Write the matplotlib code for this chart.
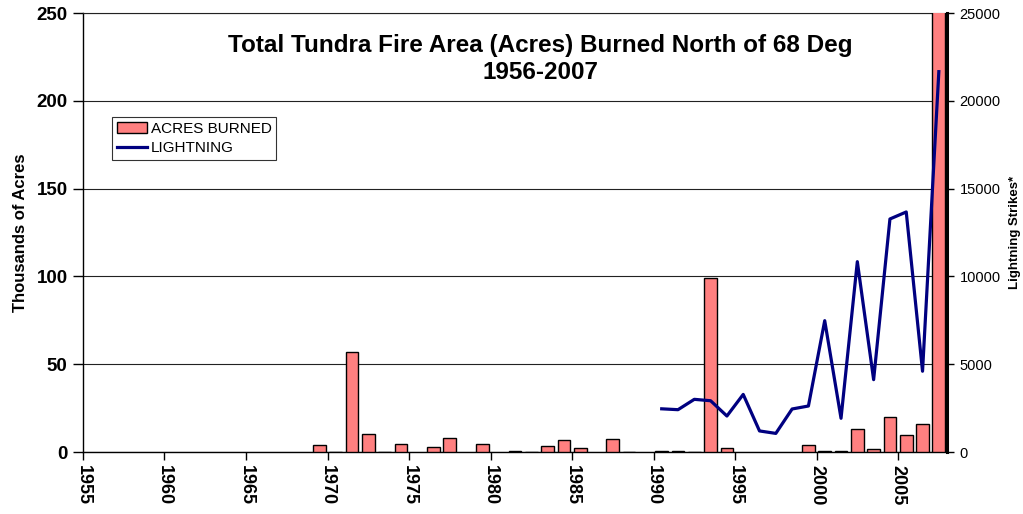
import matplotlib
matplotlib.use("Agg")
import matplotlib.pyplot as plt
import numpy as np

plt.rcParams['font.family'] = ['Liberation Sans', 'DejaVu Sans']

# ---- data ----
acre_years = list(range(1969, 2008))
acres_thousands = [3.8, 0.2, 56.8, 10.3, 0.2, 4.7, 0.0, 2.7, 8.1, 0.0,
                   4.6, 0.0, 0.5, 0.2, 3.4, 6.8, 2.5, 0.0, 7.2, 0.2,
                   0.0, 0.5, 0.5, 0.2, 98.9, 2.3, 0.0, 0.0, 0.0, 0.0,
                   3.8, 0.6, 0.6, 13.3, 1.9, 19.8, 9.9, 15.8, 256.0]
light_years = list(range(1990, 2008))
lightning = [2460, 2410, 3000, 2920, 2050, 3280, 1200, 1060, 2450, 2620,
             7480, 1920, 10840, 4120, 13270, 13670, 4600, 21660]
xtick_years = list(range(1955, 2010, 5))

title = "Total Tundra Fire Area (Acres) Burned North of 68 Deg\n1956-2007"

fig = plt.figure(figsize=(10.23, 5.14), dpi=100)
ax = fig.add_axes([0.0811, 0.1206, 0.8446, 0.8541])
ax2 = ax.twinx()

# bars (drawn in category centre: year + 0.5)
bx = np.array([y for y, v in zip(acre_years, acres_thousands) if v > 0]) + 0.5
bv = [v for v in acres_thousands if v > 0]
bars = ax.bar(bx, bv, width=0.78, color='#FF8080', edgecolor='black',
              linewidth=1.0, label='ACRES BURNED', zorder=3)

ax.set_xlim(1955, 2008)
ax.set_ylim(0, 250)
ax.set_yticks(range(0, 251, 50))
ax.yaxis.grid(True, color='#222222', linewidth=0.8, zorder=0)
ax.set_axisbelow(True)
ax.set_xticks(xtick_years)
ax.set_xticklabels([str(y) for y in xtick_years], rotation=270,
                   fontsize=13, fontweight='bold')
ax.tick_params(axis='x', direction='out', length=6, width=1, pad=3)
ax.tick_params(axis='y', direction='out', length=7, width=1, labelsize=13.5, pad=4)
for lab in ax.get_yticklabels():
    lab.set_fontweight('bold')
ax.set_ylabel('Thousands of Acres', fontsize=12, fontweight='bold', labelpad=6)

for s in ['left', 'bottom']:
    ax.spines[s].set_linewidth(1.0)
ax.spines['top'].set_linewidth(0.8)
ax.spines['top'].set_color('#222222')
ax.spines['right'].set_visible(False)

# lightning line
lx = np.array(light_years) + 0.5
line, = ax2.plot(lx, lightning, color='#000080', linewidth=2.3,
                 label='LIGHTNING', zorder=4)
ax2.set_ylim(0, 25000)
ax2.set_yticks(range(0, 25001, 5000))
ax2.tick_params(axis='y', direction='out', length=5, width=1, labelsize=10.5, pad=4)
ax2.set_ylabel('Lightning Strikes*', fontsize=9.5, fontweight='bold')
ax2.yaxis.set_label_coords(1.072, 0.5)
ax2.spines['right'].set_linewidth(2.2)
for s in ['left', 'top', 'bottom']:
    ax2.spines[s].set_visible(False)

ax2.text(0.529, 0.895, title, transform=ax2.transAxes, ha='center', va='center',
         fontsize=17.5, fontweight='bold', linespacing=1.25)

leg = ax2.legend([bars, line], ['ACRES BURNED', 'LIGHTNING'],
                 loc='upper left', bbox_to_anchor=(0.0336, 0.763),
                 fontsize=11, frameon=True, fancybox=False,
                 edgecolor='black', borderpad=0.3, handlelength=2.0,
                 handletextpad=0.25, labelspacing=0.35, borderaxespad=0)
leg.get_frame().set_linewidth(0.8)

fig.savefig('out.png', dpi=100)
